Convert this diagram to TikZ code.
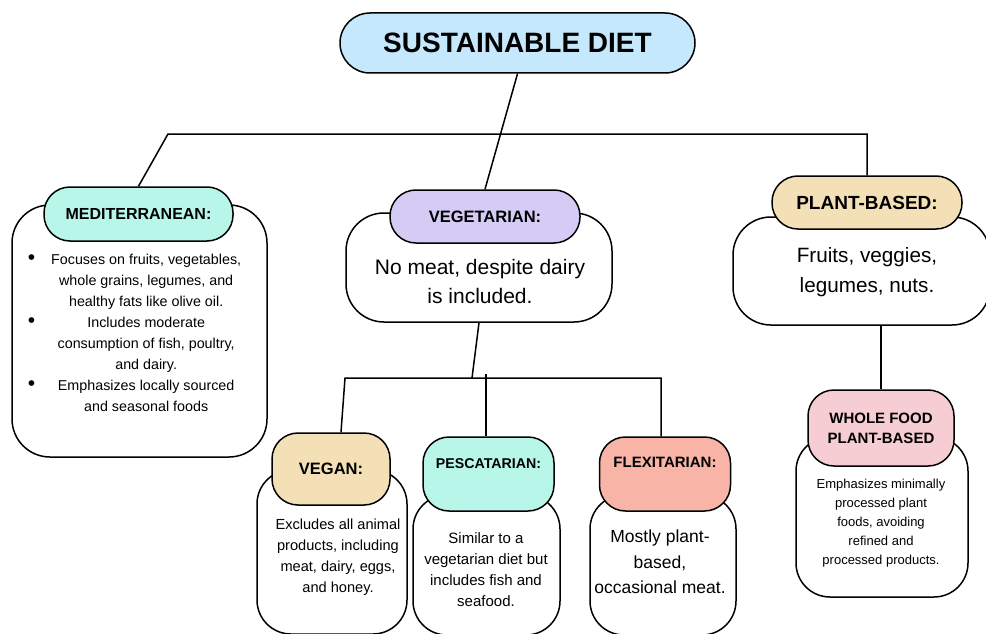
\documentclass[tikz,border=0pt]{standalone}
\usepackage{fontspec}
\setmainfont{Liberation Sans}
\usetikzlibrary{positioning,calc}

\definecolor{skyblue}{RGB}{198,232,252}
\definecolor{mint}{RGB}{183,246,233}
\definecolor{lavender}{RGB}{213,204,245}
\definecolor{wheat}{RGB}{243,224,182}
\definecolor{blush}{RGB}{246,205,211}
\definecolor{salmon}{RGB}{248,180,166}

\newcommand{\fs}[2]{\fontsize{#1}{#2}\selectfont}
\newcommand{\bigbullet}{{\fs{21}{21}\textbullet}}

\begin{document}
\begin{tikzpicture}[x=1pt,y=-1pt,line width=1.5pt,
    card/.style={draw,fill=white,rounded corners=38pt},
    tag/.style={draw,fill=#1,rounded corners=26pt,font=\bfseries},
    txt/.style={align=center,inner sep=0pt}]
    \clip(0,0)rectangle(986,634);
    \fill[white](0,0)rectangle(986,634);

    % top of the tree
    \node[draw,fill=skyblue,rounded corners=30pt,minimum width=355pt,minimum height=60pt,font=\bfseries\fs{28}{32}](diet)at(517.5,43){SUSTAINABLE DIET};

    % cards, then the coloured tags on top of them
    \node[card,minimum width=255pt,minimum height=252pt](medcard)at(139.5,331){};
    \node[card,minimum width=266pt,minimum height=109pt](vegcard)at(479,267.5){};
    \node[card,minimum width=257pt,minimum height=108pt](plantcard)at(861.5,271){};
    \node[card,rounded corners=34pt,minimum width=172pt,minimum height=160pt](wfcard)at(882,517){};
    \node[card,rounded corners=34pt,minimum width=150pt,minimum height=164pt](vegancard)at(332,552){};
    \node[card,rounded corners=34pt,minimum width=147pt,minimum height=140pt](pesccard)at(486.5,565){};
    \node[card,rounded corners=34pt,minimum width=146pt,minimum height=140pt](flexcard)at(663,565){};

    \node[tag=mint,minimum width=189pt,minimum height=54pt,font=\bfseries\fs{16}{19}](medtag)at(138.5,214){MEDITERRANEAN:};
    \node[tag=lavender,minimum width=190pt,minimum height=53pt,font=\bfseries\fs{16.5}{20}](vegtag)at(485,216.5){VEGETARIAN:};
    \node[tag=wheat,minimum width=190pt,minimum height=53pt,font=\bfseries\fs{19}{22}](planttag)at(867,202.5){PLANT-BASED:};
    \node[tag=blush,align=center,minimum width=146pt,minimum height=76pt,font=\bfseries\fs{15}{20}](wftag)at(881,428){WHOLE FOOD\\PLANT-BASED};
    \node[tag=wheat,minimum width=118pt,minimum height=72pt,font=\bfseries\fs{16.5}{19}](vegantag)at(331,469){VEGAN:};
    \node[tag=mint,minimum width=131pt,minimum height=74pt,text depth=20pt,font=\bfseries\fs{14.2}{16}](pesctag)at(488.5,474){PESCATARIAN:};
    \node[tag=salmon,minimum width=131pt,minimum height=74pt,text depth=24pt,font=\bfseries\fs{15}{18}](flextag)at(665,474){FLEXITARIAN:};

    % card texts
    \node[txt,font=\fs{14.3}{21}](medtxt)at(134.5,333.5){%
      \begin{tabular}{@{}l@{\hspace{16pt}}c@{}}
        \bigbullet & Focuses on fruits, vegetables,\\
                   & whole grains, legumes, and\\
                   & healthy fats like olive oil.\\
        \bigbullet & Includes moderate\\
                   & consumption of fish, poultry,\\
                   & and dairy.\\
        \bigbullet & Emphasizes locally sourced\\
                   & and seasonal foods
      \end{tabular}};
    \node[txt,font=\fs{21}{29}](vegtxt)at(480,281){No meat, despite dairy\\is included.};
    \node[txt,font=\fs{20.7}{30}](planttxt)at(867,272){Fruits, veggies,\\legumes, nuts.};
    \node[txt,font=\fs{13}{19}](wftxt)at(881,523){Emphasizes minimally\\processed plant\\foods, avoiding\\refined and\\processed products.};
    \node[txt,font=\fs{14.6}{21}](vegantxt)at(338,557.5){Excludes all animal\\products, including\\meat, dairy, eggs,\\and honey.};
    \node[txt,font=\fs{15}{21}](pesctxt)at(486,569.5){Similar to a\\vegetarian diet but\\includes fish and\\seafood.};
    \node[txt,font=\fs{17.5}{25.5}](flextxt)at(660,562){Mostly plant-\\based,\\occasional meat.};

    % branches
    \coordinate(bar)at(168,134);
    \coordinate(fork)at(472,378);
    \coordinate(forkl)at(345,378);
    \coordinate(forkr)at(661,378);
    \draw(diet.south)--(vegtag.north);
    \draw(medtag.north)--(bar)-|(planttag.north);
    \draw(wftag.north|-plantcard.south)--(wftag.north);
    \draw(vegcard.south)--(fork);
    \draw([xshift=10pt]vegantag.north)--(forkl)--(forkr)--(forkr|-flextag.north);
    \draw([xshift=-2.5pt]pesctag.north)--++(0,-62);
\end{tikzpicture}
\end{document}
